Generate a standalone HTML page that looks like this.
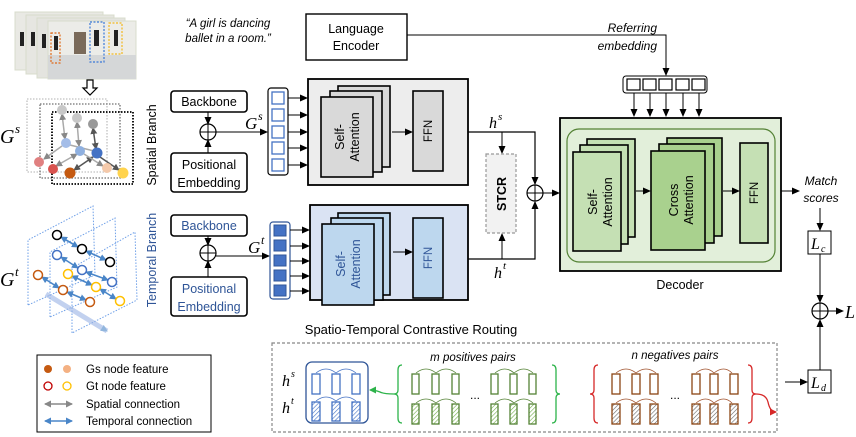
<!DOCTYPE html>
<html><head><meta charset="utf-8"><style>
html,body{margin:0;padding:0;background:#fff}
svg{display:block}
text{font-family:"Liberation Sans",sans-serif}
.s{font-family:"Liberation Sans",sans-serif}
.m{font-family:"Liberation Serif",serif;font-style:italic}
</style></head><body>
<svg width="856" height="437" viewBox="0 0 856 437" xmlns="http://www.w3.org/2000/svg">
<defs>
<marker id="a" markerWidth="8" markerHeight="8" refX="7" refY="4" orient="auto" markerUnits="userSpaceOnUse"><path d="M0,0.5 L8,4 L0,7.5z" fill="#000"/></marker>
<marker id="ag" markerWidth="7" markerHeight="7" refX="6" refY="3.5" orient="auto-start-reverse" markerUnits="userSpaceOnUse"><path d="M0,0 L7,3.5 L0,7z" fill="#888"/></marker>
<marker id="agd" markerWidth="7" markerHeight="7" refX="6" refY="3.5" orient="auto-start-reverse" markerUnits="userSpaceOnUse"><path d="M0,0 L7,3.5 L0,7z" fill="#555"/></marker>
<marker id="ab" markerWidth="7" markerHeight="7" refX="6" refY="3.5" orient="auto-start-reverse" markerUnits="userSpaceOnUse"><path d="M0,0 L7,3.5 L0,7z" fill="#4a86c8"/></marker>
<marker id="agr" markerWidth="7" markerHeight="7" refX="6" refY="3.5" orient="auto" markerUnits="userSpaceOnUse"><path d="M0,0 L7,3.5 L0,7z" fill="#2db34a"/></marker>
<marker id="ar" markerWidth="7" markerHeight="7" refX="6" refY="3.5" orient="auto" markerUnits="userSpaceOnUse"><path d="M0,0 L7,3.5 L0,7z" fill="#d62828"/></marker>
<pattern id="h" width="3" height="3" patternUnits="userSpaceOnUse" patternTransform="rotate(45)"><rect width="3" height="3" fill="#fff"/><line x1="0" y1="0" x2="0" y2="3" stroke="#666" stroke-width="1.2"/></pattern>
<pattern id="hb" width="3" height="3" patternUnits="userSpaceOnUse" patternTransform="rotate(45)"><rect width="3" height="3" fill="#fff"/><line x1="0" y1="0" x2="0" y2="3" stroke="#4472c4" stroke-width="1.2"/></pattern>
<pattern id="hg" width="3" height="3" patternUnits="userSpaceOnUse" patternTransform="rotate(45)"><rect width="3" height="3" fill="#fff"/><line x1="0" y1="0" x2="0" y2="3" stroke="#70ad47" stroke-width="1.2"/></pattern>
</defs>

<!-- photos -->
<g stroke="#d8dccc" stroke-width="1">
<rect x="15" y="12" width="88" height="58" fill="#e9e9e4"/>
<rect x="26" y="15" width="88" height="59" fill="#e6e6e1"/>
<rect x="37" y="18" width="88" height="60" fill="#e4e4df"/>
<rect x="48" y="21" width="88" height="58" fill="#ecece8"/>
</g>
<rect x="48" y="55" width="88" height="24" fill="#d5d7d8"/>
<rect x="74" y="32" width="12" height="22" fill="#7a6a5a"/>
<g fill="#222"><rect x="20" y="32" width="4" height="14"/><rect x="31" y="32" width="4" height="14"/><rect x="42" y="34" width="4" height="14"/><rect x="54" y="36" width="4" height="14"/><rect x="94" y="30" width="5" height="16"/><rect x="114" y="30" width="4" height="16"/></g>
<rect x="51" y="33" width="9" height="30" fill="none" stroke="#e06a1a" stroke-dasharray="2,1.5" stroke-width="1.2"/>
<rect x="90" y="22" width="14" height="40" fill="none" stroke="#3a78d8" stroke-dasharray="2,1.5" stroke-width="1.2"/>
<rect x="109" y="23" width="13" height="31" fill="none" stroke="#f2b820" stroke-dasharray="2,1.5" stroke-width="1.2"/>
<path d="M87,80 h6 v8 h4 l-7,7 l-7,-7 h4z" fill="#fff" stroke="#000" stroke-width="1.2"/>

<text x="228" y="27" class="s" font-size="11.5" font-style="italic" text-anchor="middle">“A girl is dancing</text>
<text x="228" y="42" class="s" font-size="11.5" font-style="italic" text-anchor="middle">ballet in a room.”</text>

<!-- Gs graph -->
<text x="0" y="143" class="m" font-size="20">G</text><text x="15" y="133" class="m" font-size="13">s</text>
<rect x="27" y="99" width="80" height="73" fill="none" stroke="#ccc" stroke-width="1.6" stroke-dasharray="1.5,1.5"/>
<rect x="40" y="104" width="80" height="74" fill="none" stroke="#888" stroke-width="1.6" stroke-dasharray="1.5,1.5"/>
<rect x="52" y="112" width="81" height="72" fill="none" stroke="#000" stroke-width="1.8" stroke-dasharray="1.5,1.5"/>
<g stroke-width="1.5">
<line x1="62" y1="114" x2="65" y2="139" stroke="#aaa" marker-end="url(#ag)" marker-start="url(#ag)"/>
<line x1="77" y1="122" x2="79" y2="146" stroke="#aaa" marker-end="url(#ag)" marker-start="url(#ag)"/>
<line x1="93" y1="128" x2="96" y2="149" stroke="#555" marker-end="url(#agd)" marker-start="url(#agd)"/>
<line x1="62" y1="146" x2="44" y2="159" stroke="#aaa" marker-end="url(#ag)"/>
<line x1="70" y1="145" x2="94" y2="151" stroke="#aaa"/>
<line x1="56" y1="166" x2="77" y2="154" stroke="#aaa" marker-end="url(#ag)" marker-start="url(#ag)"/>
<line x1="74" y1="170" x2="93" y2="157" stroke="#555" marker-end="url(#agd)" marker-start="url(#agd)"/>
<line x1="100" y1="157" x2="119" y2="170" stroke="#555" marker-end="url(#agd)"/>
<line x1="84" y1="154" x2="103" y2="166" stroke="#aaa" marker-end="url(#ag)"/>
</g>
<circle cx="62" cy="110" r="5" fill="#c8c8c8"/><circle cx="77" cy="118" r="5" fill="#c8c8c8"/><circle cx="93" cy="124" r="5" fill="#999"/>
<circle cx="66" cy="143" r="5" fill="#a4bde8"/><circle cx="80" cy="151" r="5" fill="#8fb0e0"/><circle cx="97" cy="153" r="5.5" fill="#4472c4"/>
<circle cx="39" cy="162" r="5" fill="#e08080"/><circle cx="53" cy="169" r="5" fill="#d9534f"/><circle cx="70" cy="173" r="5.5" fill="#c55a11"/>
<circle cx="107" cy="168" r="5" fill="#f4c9aa"/><circle cx="123" cy="173" r="5.5" fill="#ffd34d"/>

<!-- Gt graph -->
<text x="0" y="286" class="m" font-size="20">G</text><text x="15" y="276" class="m" font-size="13">t</text>
<g fill="none" stroke="#6fa0e8" stroke-width="1" stroke-dasharray="1.5,1.5">
<path d="M28,305 L28,240 L93,206 L95,275z"/>
<path d="M50,317 L50,252 L115,218 L117,287z"/>
<path d="M72,333 L72,268 L135,232 L137,300z"/>
</g>
<line x1="46" y1="294" x2="107" y2="331" stroke="#9ab4e6" stroke-width="5" opacity="0.6" marker-end="url(#ab)"/>
<g stroke="#4a86c8" stroke-width="1.6" marker-start="url(#ab)" marker-end="url(#ab)">
<line x1="61" y1="237" x2="78" y2="247"/><line x1="86" y1="251" x2="106" y2="260"/>
<line x1="61" y1="257" x2="78" y2="268"/><line x1="86" y1="272" x2="108" y2="280"/>
<line x1="42" y1="277" x2="59" y2="288"/><line x1="67" y1="292" x2="86" y2="300"/>
<line x1="72" y1="276" x2="92" y2="285"/><line x1="100" y1="289" x2="116" y2="299"/>
</g>
<g fill="#fff" stroke-width="1.5">
<circle cx="57" cy="235" r="4.5" stroke="#000"/><circle cx="82" cy="249" r="4.5" stroke="#000"/><circle cx="110" cy="262" r="4.5" stroke="#000"/>
<circle cx="57" cy="255" r="4.5" stroke="#4472c4"/><circle cx="82" cy="270" r="4.5" stroke="#4472c4"/><circle cx="112" cy="282" r="4.5" stroke="#4472c4"/>
<circle cx="38" cy="275" r="4.5" stroke="#c55a11"/><circle cx="63" cy="290" r="4.5" stroke="#c55a11"/><circle cx="90" cy="302" r="4.5" stroke="#c55a11"/>
<circle cx="68" cy="274" r="4.5" stroke="#ffc000"/><circle cx="96" cy="287" r="4.5" stroke="#ffc000"/><circle cx="120" cy="301" r="4.5" stroke="#ffc000"/>
</g>

<!-- legend -->
<rect x="37" y="355" width="174" height="77" fill="#fff" stroke="#000" stroke-width="1"/>
<circle cx="48" cy="369" r="4" fill="#c55a11"/><circle cx="67" cy="369" r="4" fill="#f4b183"/>
<circle cx="48" cy="386" r="4" fill="#fff" stroke="#c00000" stroke-width="1.3"/><circle cx="67" cy="386" r="4" fill="#fff" stroke="#ffc000" stroke-width="1.3"/>
<line x1="45" y1="404" x2="72" y2="404" stroke="#888" stroke-width="1.5" marker-start="url(#ag)" marker-end="url(#ag)"/>
<line x1="45" y1="421" x2="72" y2="421" stroke="#4a86c8" stroke-width="1.5" marker-start="url(#ab)" marker-end="url(#ab)"/>
<g class="s" font-size="11.5"><text x="86" y="373">Gs node feature</text><text x="86" y="390">Gt node feature</text><text x="86" y="408">Spatial connection</text><text x="86" y="425">Temporal connection</text></g>

<!-- branch labels -->
<text transform="translate(156,145) rotate(-90)" class="s" font-size="12.5" text-anchor="middle">Spatial Branch</text>
<text transform="translate(156,260) rotate(-90)" class="s" font-size="12.5" fill="#2f5597" text-anchor="middle">Temporal Branch</text>

<!-- spatial inputs -->
<rect x="171" y="91" width="76" height="21" rx="3" fill="#fff" stroke="#000" stroke-width="1.6"/>
<text x="209" y="106" class="s" font-size="12.5" text-anchor="middle">Backbone</text>
<rect x="171" y="153" width="76" height="39" rx="3" fill="#fff" stroke="#000" stroke-width="1.6"/>
<text x="209" y="169" class="s" font-size="12.5" text-anchor="middle">Positional</text>
<text x="209" y="187" class="s" font-size="12.5" text-anchor="middle">Embedding</text>
<line x1="208" y1="112" x2="208" y2="124" stroke="#000" marker-end="url(#a)"/>
<line x1="208" y1="153" x2="208" y2="140" stroke="#000" marker-end="url(#a)"/>
<circle cx="208" cy="132" r="8" fill="#fff" stroke="#000" stroke-width="1.2"/><path d="M200,132h16M208,124v16" stroke="#000"/>
<line x1="216" y1="132" x2="267" y2="132" stroke="#000" marker-end="url(#a)"/>
<text x="245" y="129" class="m" font-size="17">G</text><text x="258" y="120" class="m" font-size="12">s</text>
<rect x="268" y="88" width="20" height="87" rx="3" fill="#fff" stroke="#000" stroke-width="1.2"/>
<g fill="#fff" stroke="#4472c4" stroke-width="1.3"><rect x="272" y="92" width="12" height="12"/><rect x="272" y="109" width="12" height="12"/><rect x="272" y="126" width="12" height="12"/><rect x="272" y="142" width="12" height="12"/><rect x="272" y="159" width="12" height="12"/></g>
<g stroke="#000" marker-end="url(#a)"><line x1="288" y1="98" x2="307" y2="98"/><line x1="288" y1="115" x2="307" y2="115"/><line x1="288" y1="132" x2="307" y2="132"/><line x1="288" y1="148" x2="307" y2="148"/><line x1="288" y1="165" x2="307" y2="165"/></g>

<!-- spatial encoder -->
<rect x="308" y="79" width="160" height="106" fill="#ededed" stroke="#000" stroke-width="1.8"/>
<g fill="#d9d9d9" stroke="#000" stroke-width="1.6"><rect x="338" y="86" width="52" height="81"/><rect x="330" y="91" width="52" height="81"/><rect x="321" y="97" width="52" height="80"/></g>
<text transform="translate(347,137) rotate(-90)" class="s" font-size="12.5" text-anchor="middle"><tspan x="0" dy="-3">Self-</tspan><tspan x="0" dy="15">Attention</tspan></text>
<line x1="392" y1="132" x2="412" y2="132" stroke="#000" marker-end="url(#a)"/>
<rect x="413" y="91" width="30" height="80" fill="#d9d9d9" stroke="#000" stroke-width="1.6"/>
<text transform="translate(432,131) rotate(-90)" class="s" font-size="11.5" text-anchor="middle">FFN</text>

<!-- temporal inputs -->
<rect x="171" y="215" width="76" height="21" rx="3" fill="#fff" stroke="#000" stroke-width="1.6"/>
<text x="209" y="230" class="s" font-size="12.5" fill="#2f5597" text-anchor="middle">Backbone</text>
<rect x="171" y="277" width="76" height="39" rx="3" fill="#fff" stroke="#000" stroke-width="1.6"/>
<text x="209" y="293" class="s" font-size="12.5" fill="#2f5597" text-anchor="middle">Positional</text>
<text x="209" y="311" class="s" font-size="12.5" fill="#2f5597" text-anchor="middle">Embedding</text>
<line x1="208" y1="236" x2="208" y2="245" stroke="#000" marker-end="url(#a)"/>
<line x1="208" y1="277" x2="208" y2="261" stroke="#000" marker-end="url(#a)"/>
<circle cx="208" cy="253" r="8" fill="#fff" stroke="#000" stroke-width="1.2"/><path d="M200,253h16M208,245v16" stroke="#000"/>
<line x1="216" y1="256" x2="269" y2="256" stroke="#000" marker-end="url(#a)"/>
<text x="248" y="253" class="m" font-size="17">G</text><text x="261" y="244" class="m" font-size="12">t</text>
<rect x="270" y="222" width="20" height="77" rx="3" fill="#fff" stroke="#2f5597" stroke-width="1.2"/>
<g fill="#4472c4" stroke="#2f5597" stroke-width="1"><rect x="274" y="225" width="12" height="11"/><rect x="274" y="240" width="12" height="11"/><rect x="274" y="255" width="12" height="11"/><rect x="274" y="270" width="12" height="11"/><rect x="274" y="285" width="12" height="11"/></g>
<g stroke="#000" marker-end="url(#a)"><line x1="290" y1="230" x2="309" y2="230"/><line x1="290" y1="246" x2="309" y2="246"/><line x1="290" y1="261" x2="309" y2="261"/><line x1="290" y1="276" x2="309" y2="276"/><line x1="290" y1="291" x2="309" y2="291"/></g>

<!-- temporal encoder -->
<rect x="310" y="205" width="158" height="95" fill="#dae3f3" stroke="#000" stroke-width="1.8"/>
<g fill="#bdd7ee" stroke="#000" stroke-width="1.6"><rect x="338" y="213" width="52" height="82"/><rect x="331" y="218" width="52" height="82"/><rect x="322" y="224" width="52" height="81"/></g>
<text transform="translate(348,264) rotate(-90)" class="s" font-size="12.5" fill="#2f5597" text-anchor="middle"><tspan x="0" dy="-3">Self-</tspan><tspan x="0" dy="15">Attention</tspan></text>
<line x1="393" y1="252" x2="412" y2="252" stroke="#000" marker-end="url(#a)"/>
<rect x="413" y="218" width="30" height="80" fill="#bdd7ee" stroke="#000" stroke-width="1.6"/>
<text transform="translate(432,258) rotate(-90)" class="s" font-size="11.5" fill="#2f5597" text-anchor="middle">FFN</text>

<!-- STCR & merge -->
<path d="M468,132 H535 V184" fill="none" stroke="#000" stroke-width="1.2" marker-end="url(#a)"/>
<path d="M468,259 H535 V202" fill="none" stroke="#000" stroke-width="1.2" marker-end="url(#a)"/>
<line x1="502" y1="132" x2="502" y2="153" stroke="#000" marker-end="url(#a)"/>
<line x1="502" y1="259" x2="502" y2="234" stroke="#000" marker-end="url(#a)"/>
<text x="489" y="128" class="m" font-size="16">h</text><text x="498" y="120" class="m" font-size="11">s</text>
<text x="494" y="278" class="m" font-size="16">h</text><text x="503" y="269" class="m" font-size="11">t</text>
<rect x="486" y="154" width="30" height="79" fill="#f2f2f2" stroke="#999" stroke-width="1.2" stroke-dasharray="3,2"/>
<text transform="translate(506,194) rotate(-90)" class="s" font-size="12.5" font-weight="bold" text-anchor="middle">STCR</text>
<circle cx="535" cy="193" r="8" fill="#fff" stroke="#000" stroke-width="1.2"/><path d="M527,193h16M535,185v16" stroke="#000"/>
<line x1="543" y1="193" x2="559" y2="193" stroke="#000" marker-end="url(#a)"/>

<!-- language encoder -->
<rect x="306" y="14" width="101" height="46" fill="#fff" stroke="#000" stroke-width="1.4"/>
<text x="356" y="33" class="s" font-size="12.5" text-anchor="middle">Language</text>
<text x="356" y="50" class="s" font-size="12.5" text-anchor="middle">Encoder</text>
<path d="M407,35 H666 V75" fill="none" stroke="#000" marker-end="url(#a)"/>
<text x="657" y="32" class="s" font-size="12" font-style="italic" text-anchor="end">Referring</text>
<text x="657" y="50" class="s" font-size="12" font-style="italic" text-anchor="end">embedding</text>
<rect x="623" y="76" width="84" height="17" rx="3" fill="#fff" stroke="#000" stroke-width="1"/>
<g fill="#fff" stroke="#000" stroke-width="1.2"><rect x="627" y="79" width="13" height="11"/><rect x="643" y="79" width="13" height="11"/><rect x="659" y="79" width="13" height="11"/><rect x="676" y="79" width="13" height="11"/><rect x="692" y="79" width="13" height="11"/></g>
<g stroke="#000" marker-end="url(#a)"><line x1="634" y1="93" x2="634" y2="116"/><line x1="650" y1="93" x2="650" y2="116"/><line x1="666" y1="93" x2="666" y2="116"/><line x1="683" y1="93" x2="683" y2="116"/><line x1="699" y1="93" x2="699" y2="116"/></g>

<!-- decoder -->
<rect x="560" y="118" width="221" height="153" fill="#e2efda" stroke="#000" stroke-width="1.8"/>
<rect x="567" y="129" width="208" height="133" rx="12" fill="none" stroke="#548235" stroke-width="1.2"/>
<g fill="#c5e0b4" stroke="#000" stroke-width="1.6"><rect x="587" y="139" width="48" height="98"/><rect x="580" y="145" width="48" height="99"/><rect x="573" y="152" width="48" height="99"/></g>
<text transform="translate(600,202) rotate(-90)" class="s" font-size="12.5" text-anchor="middle"><tspan x="0" dy="-3">Self-</tspan><tspan x="0" dy="15">Attention</tspan></text>
<line x1="636" y1="191" x2="650" y2="191" stroke="#000" marker-end="url(#a)"/>
<g stroke="#000" stroke-width="1.6"><rect x="667" y="138" width="55" height="98" fill="#a9d18e"/><rect x="659" y="144" width="55" height="99" fill="#a9d18e"/><rect x="651" y="151" width="54" height="99" fill="#a9d18e"/></g>
<text transform="translate(681,200) rotate(-90)" class="s" font-size="12.5" text-anchor="middle"><tspan x="0" dy="-3">Cross</tspan><tspan x="0" dy="15">Attention</tspan></text>
<line x1="723" y1="191" x2="739" y2="191" stroke="#000" marker-end="url(#a)"/>
<rect x="740" y="143" width="28" height="100" fill="#c5e0b4" stroke="#000" stroke-width="1.6"/>
<text transform="translate(758,193) rotate(-90)" class="s" font-size="11.5" text-anchor="middle">FFN</text>
<text x="680" y="289" class="s" font-size="12.5" text-anchor="middle">Decoder</text>
<line x1="781" y1="191" x2="799" y2="191" stroke="#000" marker-end="url(#a)"/>
<text x="821" y="185" class="s" font-size="12" font-style="italic" text-anchor="middle">Match</text>
<text x="821" y="202" class="s" font-size="12" font-style="italic" text-anchor="middle">scores</text>
<line x1="820" y1="208" x2="820" y2="230" stroke="#000" marker-end="url(#a)"/>
<rect x="808" y="231" width="23" height="23" fill="#fff" stroke="#000"/>
<text x="811" y="249" class="m" font-size="16">L</text><text x="821" y="252" class="m" font-size="10">c</text>
<line x1="820" y1="254" x2="820" y2="302" stroke="#000" marker-end="url(#a)"/>
<circle cx="820" cy="311" r="8" fill="#fff" stroke="#000" stroke-width="1.2"/><path d="M812,311h16M820,303v16" stroke="#000"/>
<line x1="828" y1="311" x2="843" y2="311" stroke="#000" marker-end="url(#a)"/>
<text x="845" y="318" class="m" font-size="18">L</text>
<line x1="820" y1="370" x2="820" y2="320" stroke="#000" marker-end="url(#a)"/>
<rect x="808" y="370" width="23" height="23" fill="#fff" stroke="#000"/>
<text x="811" y="388" class="m" font-size="16">L</text><text x="821" y="391" class="m" font-size="10">d</text>
<line x1="785" y1="382" x2="807" y2="382" stroke="#000" marker-end="url(#a)"/>

<!-- STCR bottom -->
<text x="411" y="334" class="s" font-size="13" text-anchor="middle">Spatio-Temporal Contrastive Routing</text>
<rect x="272" y="343" width="505" height="89" fill="#fff" stroke="#888" stroke-width="1.2" stroke-dasharray="3,2"/>
<text x="282" y="386" class="m" font-size="16">h</text><text x="291" y="377" class="m" font-size="10">s</text>
<text x="282" y="413" class="m" font-size="16">h</text><text x="291" y="404" class="m" font-size="10">t</text>
<rect x="306" y="362" width="62" height="61" rx="6" fill="#fff" stroke="#2f5597" stroke-width="1.3"/>
<g fill="none" stroke-width="0.8">
<path d="M316,373 q10,-8 20,0 q10,-8 20,0" stroke="#4472c4"/><path d="M316,401 q10,-8 20,0 q10,-8 20,0" stroke="#4472c4"/>
<path d="M416,373 q10,-8 20,0 q10,-8 20,0" stroke="#548235"/><path d="M416,403 q10,-8 20,0 q10,-8 20,0" stroke="#548235"/>
<path d="M495,373 q10,-8 19,0 q10,-8 19,0" stroke="#548235"/><path d="M495,403 q10,-8 19,0 q10,-8 19,0" stroke="#548235"/>
<path d="M616,373 q10,-8 20,0 q10,-8 20,0" stroke="#a0522d"/><path d="M616,403 q10,-8 20,0 q10,-8 20,0" stroke="#a0522d"/>
<path d="M696,373 q10,-8 18,0 q10,-8 18,0" stroke="#a0522d"/><path d="M696,403 q10,-8 18,0 q10,-8 18,0" stroke="#a0522d"/>
</g>
<g stroke-width="1.3">
<g stroke="#4472c4" fill="#fff"><rect x="312" y="374" width="8" height="20"/><rect x="332" y="374" width="8" height="20"/><rect x="352" y="374" width="8" height="20"/></g>
<g stroke="#4472c4" fill="url(#hb)"><rect x="312" y="402" width="8" height="19"/><rect x="332" y="402" width="8" height="19"/><rect x="352" y="402" width="8" height="19"/></g>
<g stroke="#548235" fill="#fff"><rect x="412" y="374" width="7" height="20"/><rect x="432" y="374" width="7" height="20"/><rect x="452" y="374" width="7" height="20"/><rect x="491" y="374" width="7" height="20"/><rect x="510" y="374" width="7" height="20"/><rect x="529" y="374" width="7" height="20"/></g>
<g stroke="#548235" fill="url(#hg)"><rect x="412" y="404" width="7" height="20"/><rect x="432" y="404" width="7" height="20"/><rect x="452" y="404" width="7" height="20"/><rect x="491" y="404" width="7" height="20"/><rect x="510" y="404" width="7" height="20"/><rect x="529" y="404" width="7" height="20"/></g>
<g stroke="#8b4513" fill="#fff"><rect x="612" y="374" width="8" height="20"/><rect x="632" y="374" width="8" height="20"/><rect x="650" y="374" width="8" height="20"/><rect x="692" y="374" width="8" height="20"/><rect x="710" y="374" width="8" height="20"/><rect x="730" y="374" width="8" height="20"/></g>
<g stroke="#8b4513" fill="url(#h)"><rect x="612" y="404" width="8" height="20"/><rect x="632" y="404" width="8" height="20"/><rect x="650" y="404" width="8" height="20"/><rect x="692" y="404" width="8" height="20"/><rect x="710" y="404" width="8" height="20"/><rect x="730" y="404" width="8" height="20"/></g>
</g>
<text x="475" y="399" font-size="12" text-anchor="middle">...</text>
<text x="675" y="399" font-size="12" text-anchor="middle">...</text>
<text x="473" y="361" class="s" font-size="11.5" font-style="italic" text-anchor="middle">m positives pairs</text>
<text x="675" y="359" class="s" font-size="11.5" font-style="italic" text-anchor="middle">n negatives pairs</text>
<path d="M402,365 q-4,0 -4,5 v20 q0,4 -4,4 q4,0 4,4 v20 q0,5 4,5" fill="none" stroke="#2db34a" stroke-width="1.3"/>
<path d="M552,365 q4,0 4,5 v20 q0,4 4,4 q-4,0 -4,4 v20 q0,5 -4,5" fill="none" stroke="#2db34a" stroke-width="1.3"/>
<path d="M394,394 q-10,0 -14,-2 q-5,-2 -10,-2" fill="none" stroke="#2db34a" stroke-width="1.3" marker-end="url(#agr)"/>
<path d="M598,365 q-4,0 -4,5 v20 q0,4 -4,4 q4,0 4,4 v20 q0,5 4,5" fill="none" stroke="#d62828" stroke-width="1.3"/>
<path d="M748,365 q4,0 4,5 v20 q0,4 4,4 q-4,0 -4,4 v20 q0,5 -4,5" fill="none" stroke="#d62828" stroke-width="1.3"/>
<path d="M756,394 q10,0 12,8 q2,10 8,10" fill="none" stroke="#d62828" stroke-width="1.3" marker-end="url(#ar)"/>
</svg>
</body></html>
